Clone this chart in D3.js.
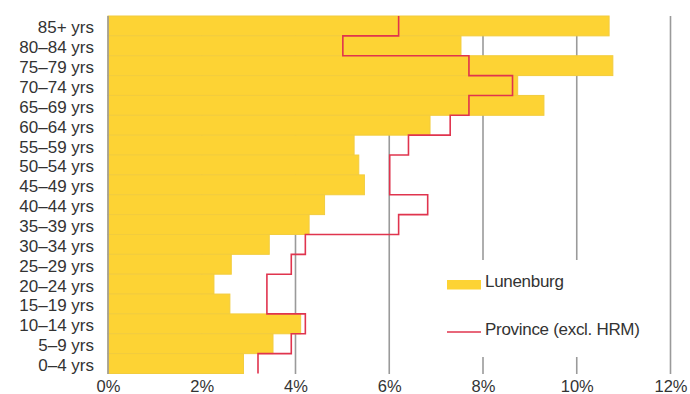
<!DOCTYPE html>
<html>
<head>
<meta charset="utf-8">
<script src="https://cdn.jsdelivr.net/npm/d3@7"></script>
<style>
  html, body { margin: 0; padding: 0; background: #fff; }
  svg { display: block; }
  text { font-family: "Liberation Sans", Arial, sans-serif; fill: #333; }
</style>
</head>
<body>
<svg id="chart" width="690" height="394"></svg>
<script>
// Age groups, oldest at the top
const ageGroups = ["85+ yrs", "80–84 yrs", "75–79 yrs", "70–74 yrs", "65–69 yrs", "60–64 yrs",
  "55–59 yrs", "50–54 yrs", "45–49 yrs", "40–44 yrs", "35–39 yrs", "30–34 yrs",
  "25–29 yrs", "20–24 yrs", "15–19 yrs", "10–14 yrs", "5–9 yrs", "0–4 yrs"];

// Share of population (%) by age group
const lunenburg = [10.69, 7.53, 10.77, 8.74, 9.30, 6.87, 5.25, 5.35, 5.47, 4.62, 4.29, 3.44,
  2.63, 2.26, 2.60, 4.11, 3.52, 2.89];
const province = [6.20, 5.01, 7.70, 8.63, 7.70, 7.30, 6.41, 6.01, 6.01, 6.82, 6.20, 4.21,
  3.91, 3.39, 3.39, 4.21, 3.91, 3.20];

const xTicks = [0, 2, 4, 6, 8, 10, 12];
const seriesNames = ["Lunenburg", "Province (excl. HRM)"];

const BAR = "#FDD334", LINE = "#E0344E", GRID = "#9a9a9a";
const FONT = "17px";

const svg = d3.select("#chart");
const x = d3.scaleLinear().domain([0, 12]).range([108, 670.5]);
const y = d3.scaleBand().domain(ageGroups).range([16, 373.5]).padding(0);

// Vertical gridlines
svg.append("g").selectAll("line").data(xTicks.slice(1)).join("line")
  .attr("x1", d => x(d)).attr("x2", d => x(d))
  .attr("y1", 16).attr("y2", 374)
  .attr("stroke", GRID).attr("stroke-width", 1.6);

// Lunenburg bars
svg.append("g").selectAll("rect").data(ageGroups).join("rect")
  .attr("x", x(0))
  .attr("y", d => y(d))
  .attr("width", (d, i) => x(lunenburg[i]) - x(0))
  .attr("height", y.bandwidth())
  .attr("fill", BAR)
  .attr("stroke", "#F2CC3E").attr("stroke-width", 1);

// Zero axis line
svg.append("line")
  .attr("x1", x(0)).attr("x2", x(0)).attr("y1", 16).attr("y2", 374)
  .attr("stroke", GRID).attr("stroke-width", 1.6);

// Province step outline: vertical at each group's value, horizontal at band edges
const pts = [];
ageGroups.forEach((g, i) => {
  pts.push([x(province[i]), y(g)]);
  pts.push([x(province[i]), y(g) + y.bandwidth()]);
});
svg.append("path")
  .attr("d", d3.line()(pts))
  .attr("fill", "none").attr("stroke", LINE).attr("stroke-width", 1.6);

// Category axis
const yAxis = svg.append("g").attr("transform", `translate(${x(0)},2)`)
  .call(d3.axisLeft(y).tickSize(0).tickPadding(14));
yAxis.select(".domain").remove();
yAxis.selectAll("text").style("font-size", FONT).attr("fill", "#333");

// Value axis
const xAxis = svg.append("g").attr("transform", "translate(0,374)")
  .call(d3.axisBottom(x).tickValues(xTicks).tickFormat(d => d + "%").tickSize(0).tickPadding(6));
xAxis.select(".domain").remove();
xAxis.selectAll("text").style("font-size", "16.5px").attr("fill", "#333");

// Legend
const lg = svg.append("g");
lg.append("rect").attr("x", 440).attr("y", 260).attr("width", 215).attr("height", 97).attr("fill", "#fff");
lg.append("rect").attr("x", 447).attr("y", 280).attr("width", 34).attr("height", 9.5).attr("fill", BAR);
lg.append("text").attr("x", 485).attr("y", 281).attr("dy", "0.35em")
  .style("font-size", FONT).style("letter-spacing", "-0.3px").text(seriesNames[0]);
lg.append("line").attr("x1", 447).attr("x2", 481).attr("y1", 332).attr("y2", 332)
  .attr("stroke", LINE).attr("stroke-width", 1.6);
lg.append("text").attr("x", 485).attr("y", 329).attr("dy", "0.35em")
  .style("font-size", FONT).style("letter-spacing", "-0.3px").text(seriesNames[1]);
</script>
</body>
</html>
